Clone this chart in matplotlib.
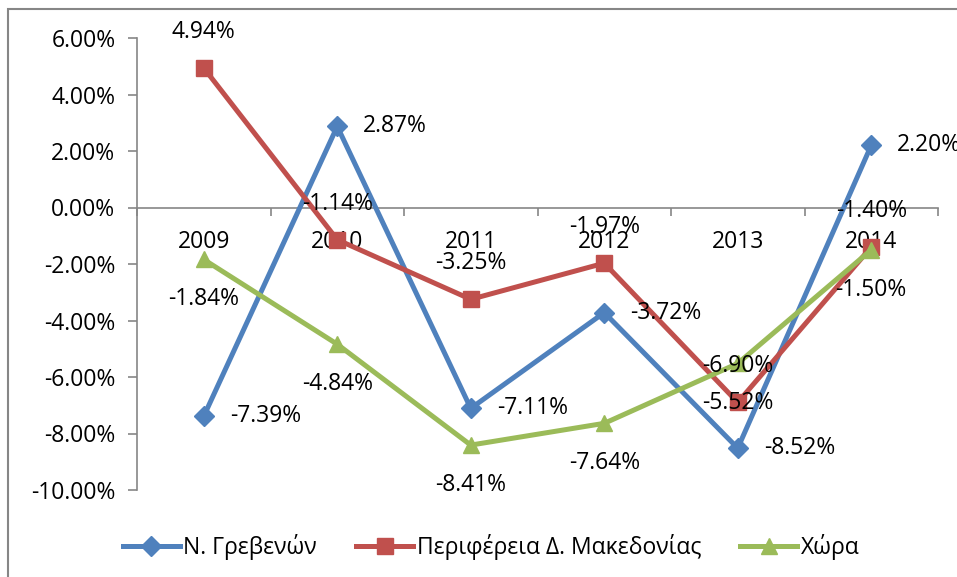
import matplotlib
matplotlib.use('Agg')
import matplotlib.pyplot as plt
from matplotlib.patches import Rectangle
from matplotlib.ticker import FuncFormatter

plt.rcParams['font.family'] = ['Open Sans', 'Noto Sans', 'DejaVu Sans']

years = ['2009', '2010', '2011', '2012', '2013', '2014']
grevena = [-7.39, 2.87, -7.11, -3.72, -8.52, 2.20]
periferia = [4.94, -1.14, -3.25, -1.97, -6.90, -1.40]
xora = [-1.84, -4.84, -8.41, -7.64, -5.52, -1.50]
names = ['Ν. Γρεβενών', 'Περιφέρεια Δ. Μακεδονίας', 'Χώρα']

blue = '#4F81BD'
red = '#C0504D'
green = '#9BBB59'
gray = '#868686'

fig = plt.figure(figsize=(9.57, 5.77), dpi=100)
ax = fig.add_axes([137/957, 1 - 490/577, (938 - 137)/957, (490 - 38)/577])

x = range(len(years))
ax.plot(x, grevena, color=blue, lw=3.6, marker='D', ms=10, label=names[0])
ax.plot(x, periferia, color=red, lw=3.6, marker='s', ms=11, label=names[1])
ax.plot(x, xora, color=green, lw=3.6, marker='^', ms=12, label=names[2])

fs = 16.5
# data labels: blue right, red above, green below
for i, v in enumerate(grevena):
    ax.annotate(f'{v:.2f}%', (i, v), xytext=(26, 0), textcoords='offset pixels',
                ha='left', va='center', fontsize=fs)
for i, v in enumerate(periferia):
    ax.annotate(f'{v:.2f}%', (i, v), xytext=(0, 36), textcoords='offset pixels',
                ha='center', va='center', fontsize=fs)
for i, v in enumerate(xora):
    ax.annotate(f'{v:.2f}%', (i, v), xytext=(0, -40), textcoords='offset pixels',
                ha='center', va='center', fontsize=fs)

ax.set_xlim(-0.5, 5.5)
ax.set_ylim(-10, 6)
ax.set_yticks(range(-10, 7, 2))
ax.yaxis.set_major_formatter(FuncFormatter(lambda v, p: f'{v:.2f}%'))
ax.set_xticks(list(x))
ax.set_xticklabels(years)
ax.set_xticks([i - 0.5 for i in range(len(years) + 1)], minor=True)

for s in ['top', 'right']:
    ax.spines[s].set_visible(False)
ax.spines['left'].set_color(gray)
ax.spines['bottom'].set_color(gray)
ax.spines['left'].set_linewidth(1.2)
ax.spines['bottom'].set_linewidth(1.2)
ax.spines['bottom'].set_position(('data', 0))
ax.spines['bottom'].set_zorder(0)

ax.tick_params(axis='y', length=6.5, width=1.2, color=gray, pad=9, labelsize=fs)
ax.tick_params(axis='x', which='major', length=0, pad=16, labelsize=fs)
ax.tick_params(axis='x', which='minor', length=6, width=1.2, color=gray, direction='out')

ax.legend(loc='center', bbox_to_anchor=(491/957, 1 - 547/577), bbox_transform=fig.transFigure,
          ncol=3, frameon=False, fontsize=fs, handlelength=2.5, columnspacing=1.7,
          handletextpad=0.15)

fig.patches.append(Rectangle((8/957, -0.1), 1.2, 1 - 9/577 + 0.1, transform=fig.transFigure,
                             fill=False, edgecolor=gray, lw=1.5))

fig.savefig('out.png', dpi=100)
